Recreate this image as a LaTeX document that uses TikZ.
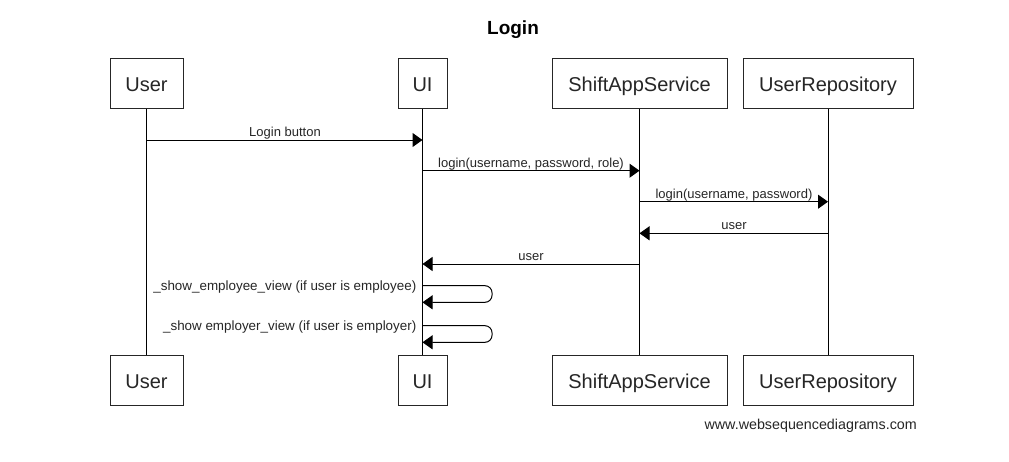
\documentclass[tikz,border=0pt]{standalone}
\usepackage{fontspec}
\setmainfont{Liberation Sans}
\usetikzlibrary{arrows.meta}
\tikzset{
  actor/.style={draw=black!85, line width=1pt, fill=white, inner sep=0pt, minimum height=50pt, text height=20pt, text depth=3.6pt, font=\fontsize{20}{24}\selectfont, text=black!85},
  life/.style={draw=black, line width=1pt},
  msg/.style={draw=black, line width=1pt, -{Triangle[length=10pt,width=14pt]}},
  lbl/.style={inner sep=0pt, anchor=base, font=\fontsize{13}{15}\selectfont, text=black!85},
  selflbl/.style={lbl, anchor=base east, font=\fontsize{13.4}{15}\selectfont},
}
\begin{document}
\begin{tikzpicture}[x=1pt,y=-1pt]
\path[use as bounding box, fill=white] (0,0) rectangle (1009,461);
\node[font=\bfseries\fontsize{19}{22}\selectfont, anchor=base] (title) at (513,34) {Login};
% top actors
\node[actor, minimum width=73pt] (user) at (146.5,83.5) {User};
\node[actor, minimum width=49pt] (ui) at (422.5,83.5) {UI};
\node[actor, minimum width=175pt] (svc) at (639.5,83.5) {ShiftAppService};
\node[actor, minimum width=170pt] (repo) at (828,83.5) {UserRepository};
% bottom actors
\node[actor, minimum width=73pt] (userb) at (146.5,380.5) {User};
\node[actor, minimum width=49pt] (uib) at (422.5,380.5) {UI};
\node[actor, minimum width=175pt] (svcb) at (639.5,380.5) {ShiftAppService};
\node[actor, minimum width=170pt] (repob) at (828,380.5) {UserRepository};
% lifelines
\draw[life] (user) -- (userb);
\draw[life] (ui) -- (uib);
\draw[life] (svc) -- (svcb);
\draw[life] (repo) -- (repob);
% messages
\draw[msg] (user |- 0,140) -- (ui |- 0,140);
\node[lbl] (m1) at (285,136) {Login button};
\draw[msg] (ui |- 0,170.7) -- (svc |- 0,170.7);
\node[lbl] (m2) at (531,167) {login(username, password, role)};
\draw[msg] (svc |- 0,201.7) -- (repo |- 0,201.7);
\node[lbl] (m3) at (734,198) {login(username, password)};
\draw[msg] (repo |- 0,233.3) -- (svc |- 0,233.3);
\node[lbl] (m4) at (734,229.5) {user};
\draw[msg] (svc |- 0,264) -- (ui |- 0,264);
\node[lbl] (m5) at (531,260.5) {user};
% self messages
\coordinate (s1a) at (492,285.7);
\coordinate (s1b) at (492,302.3);
\draw[msg, rounded corners=7pt] (ui |- s1a) -- (s1a) -- (s1b) -- (ui |- s1b);
\node[selflbl] (m6) at (416.5,290.5) {\_show\_employee\_view (if user is employee)};
\coordinate (s2a) at (492,325.7);
\coordinate (s2b) at (492,342.3);
\draw[msg, rounded corners=7pt] (ui |- s2a) -- (s2a) -- (s2b) -- (ui |- s2b);
\node[selflbl] (m7) at (416.5,330.5) {\_show employer\_view (if user is employer)};
% footer
\node[inner sep=0pt, anchor=base east, font=\fontsize{14.3}{16}\selectfont, text=black!85] (foot) at (917,429) {www.websequencediagrams.com};
\end{tikzpicture}
\end{document}
